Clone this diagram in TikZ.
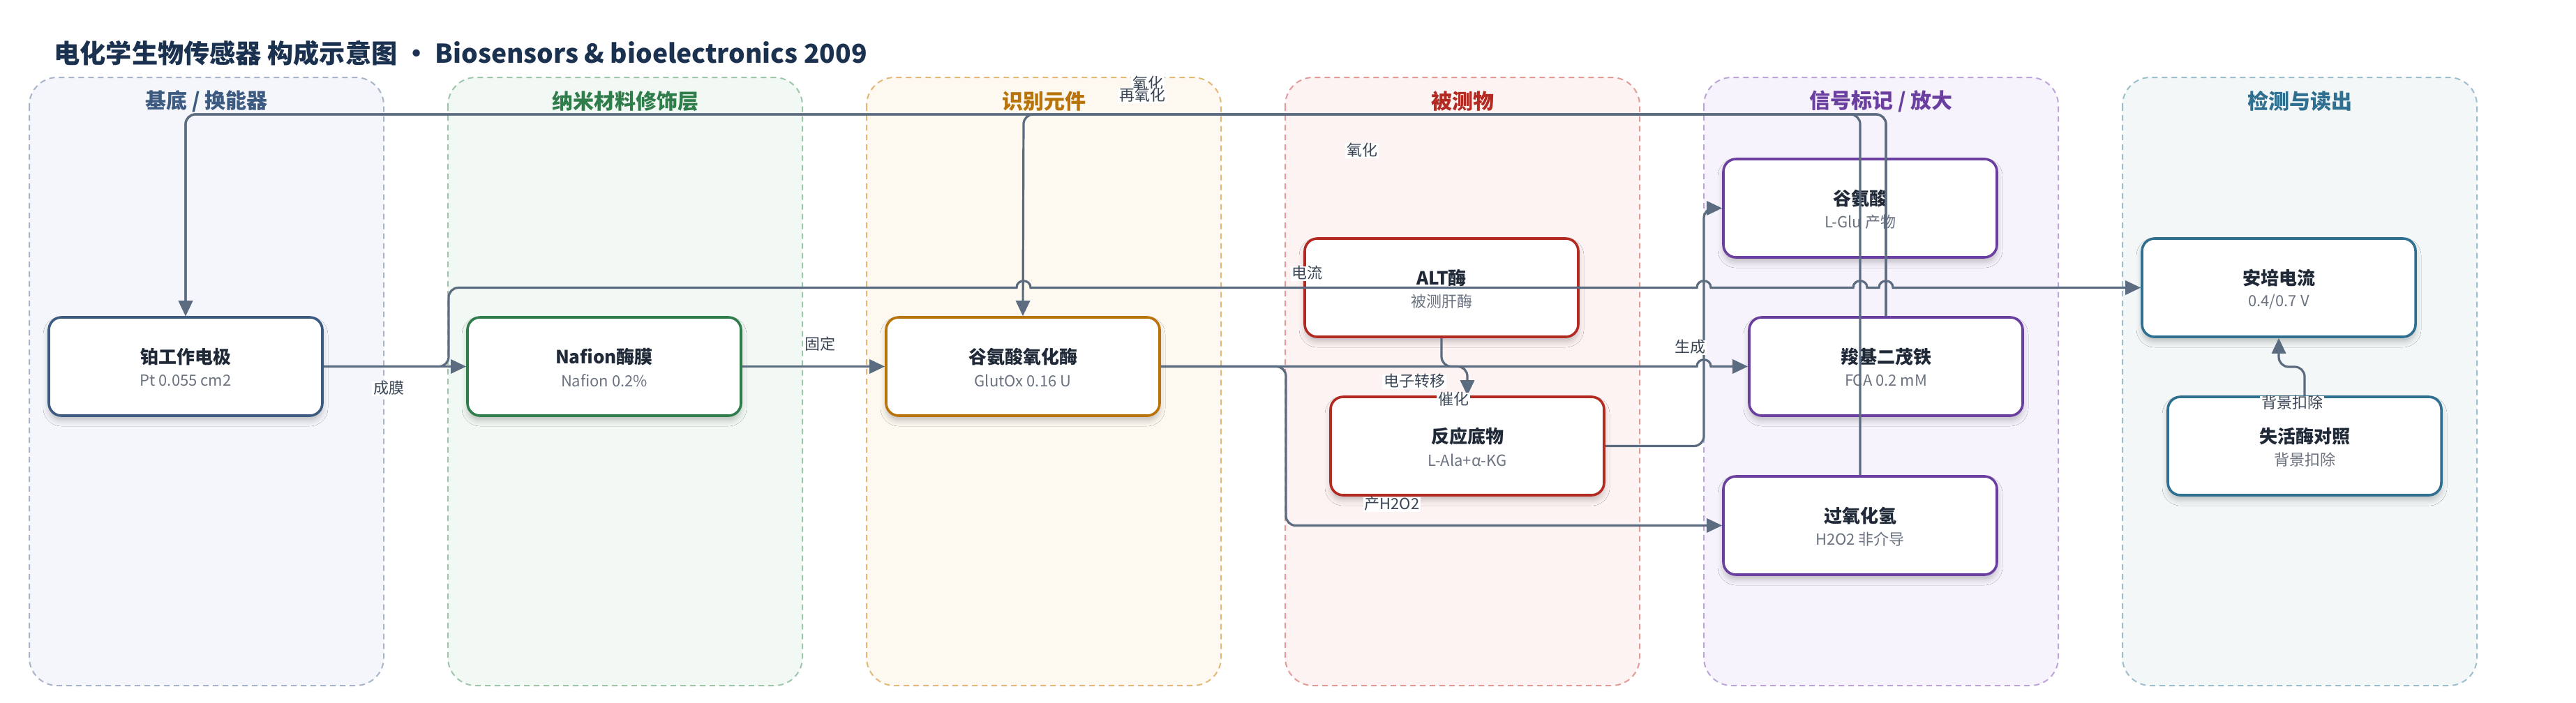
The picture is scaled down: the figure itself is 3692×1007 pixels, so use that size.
\documentclass[tikz,border=0pt]{standalone}
\usepackage{fontspec}
\setmainfont{Noto Sans CJK SC}
\usetikzlibrary{arrows.meta,shadows.blur}
\definecolor{linec}{HTML}{5B6B80}
\definecolor{titlec}{HTML}{1B3150}
\definecolor{nodetc}{HTML}{1F2937}
\definecolor{subc}{HTML}{6B7280}
\definecolor{labc}{HTML}{3A4656}
\definecolor{laneAf}{HTML}{F5F6FB}\definecolor{laneAd}{HTML}{A7B4CA}\definecolor{colA}{HTML}{3D5A80}
\definecolor{laneBf}{HTML}{F2F8F4}\definecolor{laneBd}{HTML}{9CC7A9}\definecolor{colB}{HTML}{2E7D4A}
\definecolor{laneCf}{HTML}{FDF8F0}\definecolor{laneCd}{HTML}{E3B877}\definecolor{colC}{HTML}{B8730A}
\definecolor{laneDf}{HTML}{FDF3F2}\definecolor{laneDd}{HTML}{E39B97}\definecolor{colD}{HTML}{B22A22}
\definecolor{laneEf}{HTML}{F7F3FC}\definecolor{laneEd}{HTML}{BDA5DB}\definecolor{colE}{HTML}{6A3FA0}
\definecolor{laneFf}{HTML}{F3F7F8}\definecolor{laneFd}{HTML}{9CBFCD}\definecolor{colF}{HTML}{2F6F8F}
\begin{document}
\begin{tikzpicture}[x=0.5pt,y=-0.5pt,
  lanebox/.style={line width=1pt, dash pattern=on 4pt off 3pt, rounded corners=20pt},
  lanetitle/.style={font=\fontsize{15pt}{18pt}\selectfont\bfseries},
  nodebox/.style={draw, line width=1.8pt, rounded corners=9pt, fill=white,
    minimum width=196pt, minimum height=70.5pt, inner sep=0pt,
    blur shadow={shadow xshift=0pt,shadow yshift=-3.5pt,shadow blur radius=4pt,shadow opacity=22}},
  ntitle/.style={font=\fontsize{13pt}{15pt}\selectfont\bfseries, text=nodetc},
  nsub/.style={font=\fontsize{11pt}{13pt}\selectfont, text=subc},
  edge/.style={draw=linec, line width=1.6pt, -{Triangle[length=11pt,width=10pt]}},
  elabel/.style={font=\fontsize{11pt}{13pt}\selectfont, text=labc, fill=white,
    inner xsep=1pt, inner ysep=0pt, text height=9pt, text depth=1.5pt}
]
\useasboundingbox (0,0) rectangle (3692,1007);
\fill[white] (0,0) rectangle (3692,1007);

% title
\node[anchor=west, font=\fontsize{18.6pt}{22pt}\selectfont\bfseries, text=titlec, inner sep=0pt] (title) at (77,76)
  {电化学生物传感器 构成示意图 · Biosensors \& bioelectronics 2009};

% lanes
\draw[lanebox, fill=laneAf, draw=laneAd] (42,111) rectangle (550,983);
\draw[lanebox, fill=laneBf, draw=laneBd] (642,111) rectangle (1150,983);
\draw[lanebox, fill=laneCf, draw=laneCd] (1242,111) rectangle (1750,983);
\draw[lanebox, fill=laneDf, draw=laneDd] (1842,111) rectangle (2350,983);
\draw[lanebox, fill=laneEf, draw=laneEd] (2442,111) rectangle (2950,983);
\draw[lanebox, fill=laneFf, draw=laneFd] (3042,111) rectangle (3550,983);
\node[lanetitle, text=colA] (lt1) at (296,145) {基底 / 换能器};
\node[lanetitle, text=colB] (lt2) at (896,145) {纳米材料修饰层};
\node[lanetitle, text=colC] (lt3) at (1496,145) {识别元件};
\node[lanetitle, text=colD] (lt4) at (2096,145) {被测物};
\node[lanetitle, text=colE] (lt5) at (2696,145) {信号标记 / 放大};
\node[lanetitle, text=colF] (lt6) at (3296,145) {检测与读出};

% nodes
\node[nodebox, draw=colA] (pt) at (266,525.5) {};
\node[ntitle] (ptt) at ([yshift=7pt]pt.center) {铂工作电极};
\node[nsub] (pts) at ([yshift=-10pt]pt.center) {Pt 0.055 cm2};

\node[nodebox, draw=colB] (naf) at (866,525.5) {};
\node[ntitle] (naft) at ([yshift=7pt]naf.center) {Nafion酶膜};
\node[nsub] (nafs) at ([yshift=-10pt]naf.center) {Nafion 0.2\%};

\node[nodebox, draw=colC] (gox) at (1466,525.5) {};
\node[ntitle] (goxt) at ([yshift=7pt]gox.center) {谷氨酸氧化酶};
\node[nsub] (goxs) at ([yshift=-10pt]gox.center) {GlutOx 0.16 U};

\node[nodebox, draw=colD] (alt) at (2066,412.5) {};
\node[ntitle] (altt) at ([yshift=7pt]alt.center) {ALT酶};
\node[nsub] (alts) at ([yshift=-10pt]alt.center) {被测肝酶};

\node[nodebox, draw=colD] (subs) at (2103,639.5) {};
\node[ntitle] (subst) at ([yshift=7pt]subs.center) {反应底物};
\node[nsub] (subss) at ([yshift=-10pt]subs.center) {L-Ala+α-KG};

\node[nodebox, draw=colE] (glu) at (2666,298.5) {};
\node[ntitle] (glut) at ([yshift=7pt]glu.center) {谷氨酸};
\node[nsub] (glus) at ([yshift=-10pt]glu.center) {L-Glu 产物};

\node[nodebox, draw=colE] (fca) at (2703,525.5) {};
\node[ntitle] (fcat) at ([yshift=7pt]fca.center) {羧基二茂铁};
\node[nsub] (fcas) at ([yshift=-10pt]fca.center) {FCA 0.2 mM};

\node[nodebox, draw=colE] (hoo) at (2666,753.5) {};
\node[ntitle] (hoot) at ([yshift=7pt]hoo.center) {过氧化氢};
\node[nsub] (hoos) at ([yshift=-10pt]hoo.center) {H2O2 非介导};

\node[nodebox, draw=colF] (amp) at (3266,412.5) {};
\node[ntitle] (ampt) at ([yshift=7pt]amp.center) {安培电流};
\node[nsub] (amps) at ([yshift=-10pt]amp.center) {0.4/0.7 V};

\node[nodebox, draw=colF] (ctl) at (3303,639.5) {};
\node[ntitle] (ctlt) at ([yshift=7pt]ctl.center) {失活酶对照};
\node[nsub] (ctls) at ([yshift=-10pt]ctl.center) {背景扣除};

% edges
\draw[edge] (pt.east) -- (naf.west);
\draw[edge] (naf.east) -- (gox.west);
\draw[edge] (pt.east) [rounded corners=7pt] -- (643,525.5) -- (643,412.5) -- (700,412.5) [sharp corners]
  -- (1457,412.5) .. controls (1457,399.5) and (1477,399.5) .. (1477,412.5)
  -- (2432,412.5) .. controls (2432,399.5) and (2452,399.5) .. (2452,412.5)
  -- (2656,412.5) .. controls (2656,399.5) and (2676,399.5) .. (2676,412.5)
  -- (2693,412.5) .. controls (2693,399.5) and (2713,399.5) .. (2713,412.5)
  -- (amp.west);
\draw[edge] (gox.east) -- (2432,525.5) .. controls (2432,512.5) and (2452,512.5) .. (2452,525.5) -- (fca.west);
\draw[edge] (gox.east) [rounded corners=7pt] -- (1843,525.5) -- (1843,753.5) -- (hoo.west);
\draw[edge] (alt.south) [rounded corners=7pt] -- (2066,525.5) -- (2103,525.5) -- (subs.north);
\draw[edge] (subs.east) [rounded corners=7pt] -- (2442,639.5) -- (2442,298.5) -- (glu.west);
\draw[edge] (hoo.north) [rounded corners=7pt] -- (2666,164) -- (266,164) -- (pt.north);
\draw[edge] (fca.north) [rounded corners=7pt] -- (2703,164) -- (266,164) -- (pt.north);
\draw[edge] (fca.north) [rounded corners=7pt] -- (2703,164) -- (1467,164) -- (gox.north);
\draw[edge] (ctl.north) [rounded corners=7pt] -- (3303,526) -- (3266,526) -- (amp.south);

% labels
\node[elabel] (l1) at (557,557) {成膜};
\node[elabel] (l2) at (1175,494) {固定};
\node[elabel] (l3) at (1873,392) {电流};
\node[elabel] (l4) at (1645,120) {氧化};
\node[elabel] (l5) at (1637,137) {再氧化};
\node[elabel] (l6) at (1952,216) {氧化};
\node[elabel] (l7) at (2027,547) {电子转移};
\node[elabel] (l8) at (2083,573) {催化};
\node[elabel] (l9) at (1995,723) {产H2O2};
\node[elabel] (l10) at (2422,498) {生成};
\node[elabel] (l11) at (3285,578) {背景扣除};
\end{tikzpicture}
\end{document}
